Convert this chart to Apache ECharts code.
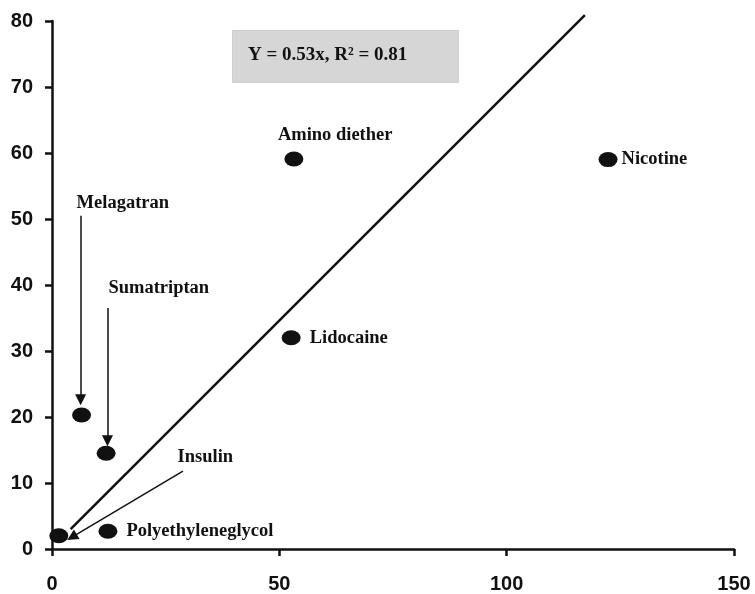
<!DOCTYPE html>
<html>
<head>
<meta charset="utf-8">
<script src="https://cdn.jsdelivr.net/npm/echarts@6/dist/echarts.min.js"></script>
<style>html,body{margin:0;padding:0;background:#fff;}#c{width:755px;height:594px;}</style>
</head>
<body>
<div id="c"></div>
<script>
// Data
var drugNames = ['Insulin', 'Polyethyleneglycol', 'Melagatran', 'Sumatriptan', 'Lidocaine', 'Amino diether', 'Nicotine'];
var xValues = [1.5, 12.3, 6.5, 11.9, 52.6, 53.2, 122.3];
var yValues = [2.0, 2.7, 20.3, 14.5, 32.0, 59.1, 59.0];
// labels drawn next to the dot (empty = labelled by an arrow annotation)
var dotLabels = ['', 'Polyethyleneglycol', '', '', 'Lidocaine', 'Amino diether', 'Nicotine'];
// regression line as drawn
var fitLineX = [4.1, 117.2];
var fitLineY = [3.0, 80.9];
// arrow annotations
var arrowNames = ['Melagatran', 'Sumatriptan', 'Insulin'];
var arrowFromX = [6.3, 12.2, 28.8];
var arrowFromY = [50.5, 36.5, 11.8];
var arrowToX = [6.3, 12.2, 4.4];
var arrowToY = [22.6, 16.4, 1.8];
var arrowLabelX = [5.3, 12.3, 27.5];
var arrowLabelY = [52.4, 39.5, 13.9];
// axis ticks
var xTicks = [0, 50, 100, 150];
var yTicks = [0, 10, 20, 30, 40, 50, 60, 70, 80];
var equationText = 'Y = 0.53x, R\u00B2 = 0.81';

var serif = '"Liberation Serif", "Times New Roman", serif';
var txt = {fontFamily: serif, fontWeight: 'bold', fontSize: 18.5, color: '#111', opacity: 1};
var labelStyle = {
  'Polyethyleneglycol': {position: 'right', distance: 9},
  'Lidocaine': {position: 'right', distance: 9},
  'Nicotine': {position: 'right', distance: 4},
  'Amino diether': {position: 'top', distance: 7, align: 'left', offset: [-16, 0]}
};

var scatterData = drugNames.map(function (n, i) {
  var d = {name: n, value: [xValues[i], yValues[i]]};
  if (dotLabels[i]) {
    d.label = Object.assign({show: true, formatter: dotLabels[i]}, txt, labelStyle[dotLabels[i]]);
  }
  return d;
});

var arrowData = arrowNames.map(function (n, i) {
  return {name: n, coords: [[arrowFromX[i], arrowFromY[i]], [arrowToX[i], arrowToY[i]]]};
});

var arrowLabelData = arrowNames.map(function (n, i) {
  return {name: n, value: [arrowLabelX[i], arrowLabelY[i]]};
});

var chart = echarts.init(document.getElementById('c'), null, {renderer: 'canvas'});
var axisFont = {fontFamily: '"Liberation Sans", Arial, sans-serif', fontWeight: 'bold', fontSize: 20, color: '#111'};

chart.setOption({
  backgroundColor: '#fff',
  animation: false,
  grid: {left: 52, right: 21, top: 21, bottom: 45, containLabel: false},
  xAxis: {
    type: 'value', min: xTicks[0], max: xTicks[xTicks.length - 1], interval: xTicks[1] - xTicks[0],
    axisLine: {show: true, onZero: false, lineStyle: {color: '#111', width: 2.5}},
    axisTick: {show: true, length: 7, lineStyle: {color: '#111', width: 2.5}},
    splitLine: {show: false},
    axisLabel: Object.assign({margin: 25}, axisFont)
  },
  yAxis: {
    type: 'value', min: yTicks[0], max: yTicks[yTicks.length - 1], interval: yTicks[1] - yTicks[0],
    axisLine: {show: true, onZero: false, lineStyle: {color: '#111', width: 2.5}},
    axisTick: {show: true, length: 7, lineStyle: {color: '#111', width: 2.5}},
    splitLine: {show: false},
    axisLabel: Object.assign({margin: 19}, axisFont)
  },
  graphic: [
    {type: 'rect', left: 232, top: 30, shape: {width: 226, height: 52}, style: {fill: '#d6d6d6', stroke: '#cfcfcf', lineWidth: 1}, z: 10},
    {type: 'text', left: 248, top: 46, style: {text: equationText, fontFamily: serif, fontWeight: 'bold', fontSize: 19, fill: '#111'}, z: 11}
  ],
  series: [
    {
      type: 'line', data: fitLineX.map(function (x, i) { return [x, fitLineY[i]]; }),
      showSymbol: false, symbol: 'none', clip: false,
      lineStyle: {color: '#111', width: 2.5}, z: 3
    },
    {
      type: 'lines', coordinateSystem: 'cartesian2d', data: arrowData,
      symbol: ['none', 'triangle'], symbolSize: [0, 11],
      lineStyle: {color: '#111', width: 1.5, opacity: 1}, z: 4
    },
    {
      type: 'scatter', data: arrowLabelData, symbol: 'circle', symbolSize: 1, silent: true,
      itemStyle: {color: '#fff', opacity: 1},
      label: Object.assign({show: true, position: 'right', distance: 0, formatter: '{b}'}, txt)
    },
    {
      type: 'scatter', data: scatterData, symbol: 'circle', symbolSize: [19, 15],
      itemStyle: {color: '#111', opacity: 1},
      label: {show: false}, z: 5
    }
  ]
});
</script>
</body>
</html>
